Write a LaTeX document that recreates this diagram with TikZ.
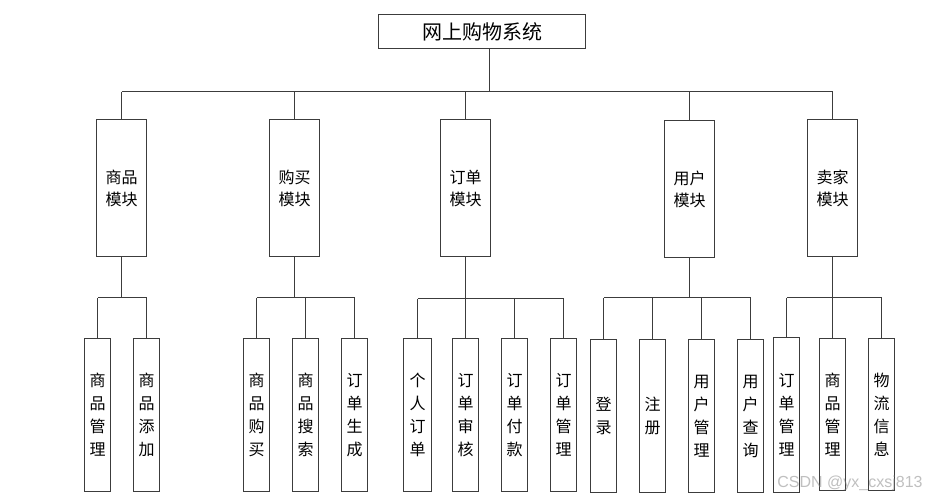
\documentclass[tikz,border=0pt]{standalone}
\usepackage{fontspec}
\newfontfamily\cjk{Noto Sans CJK SC}
\newfontfamily\wmfont{Liberation Sans}
\definecolor{linec}{RGB}{60,60,60}
\begin{document}
\begin{tikzpicture}[x=1pt,y=-1pt,
  box/.style={draw=linec, line width=1.3pt, inner sep=0pt, fill=white, align=center},
  topbox/.style={box, minimum width=207pt, minimum height=34pt, font=\cjk\fontsize{20}{22}\selectfont},
  modbox/.style={box, minimum width=50pt, minimum height=137pt, font=\cjk\fontsize{16}{22}\selectfont},
  leafbox/.style={box, minimum width=26pt, minimum height=153pt, font=\cjk\fontsize{16}{23}\selectfont},
  conn/.style={draw=linec, line width=1.3pt}]
\useasboundingbox (0,0) rectangle (930,498);
% top
\node[topbox] (top) at (482,31.5) {网上购物系统};
% modules
\node[modbox] (m1) at (121.5,188) {商品\\模块};
\node[modbox] (m2) at (294.5,188) {购买\\模块};
\node[modbox] (m3) at (465.5,188) {订单\\模块};
\node[modbox] (m4) at (689.5,189) {用户\\模块};
\node[modbox] (m5) at (832.5,188) {卖家\\模块};
% leaves
\node[leafbox] (g1) at (97.5,415) {商\\品\\管\\理};
\node[leafbox] (g2) at (146.5,415) {商\\品\\添\\加};
\node[leafbox] (b1) at (256.5,415) {商\\品\\购\\买};
\node[leafbox] (b2) at (305.5,415) {商\\品\\搜\\索};
\node[leafbox] (b3) at (354.5,415) {订\\单\\生\\成};
\node[leafbox, minimum width=28pt] (o1) at (417.5,415) {个\\人\\订\\单};
\node[leafbox] (o2) at (465.5,415) {订\\单\\审\\核};
\node[leafbox] (o3) at (514.5,415) {订\\单\\付\\款};
\node[leafbox] (o4) at (563.5,415) {订\\单\\管\\理};
\node[leafbox] (u1) at (603.5,416) {登\\录};
\node[leafbox] (u2) at (652.5,416) {注\\册};
\node[leafbox] (u3) at (701.5,416) {用\\户\\管\\理};
\node[leafbox] (u4) at (750.5,416) {用\\户\\查\\询};
\node[leafbox, minimum height=155pt] (s1) at (786.5,415) {订\\单\\管\\理};
\node[leafbox, minimum height=152pt] (s2) at (832.5,414.5) {商\\品\\管\\理};
\node[leafbox, minimum height=152pt] (s3) at (881.5,414.5) {物\\流\\信\\息};
% bar coordinates
\coordinate (t0) at (489.5,48.5);
\coordinate (bar0) at (0,91.5);
\coordinate (bar1) at (0,297.5);
\coordinate (bar3) at (0,298.5);
% top level
\draw[conn] (top.south -| t0) -- (t0 |- bar0);
\draw[conn] (m1.north |- bar0) -- (m5.north |- bar0);
\foreach \m in {m1,m2,m3,m4,m5} \draw[conn] (\m.north) -- (\m.north |- bar0);
% group 1
\draw[conn] (m1.south) -- (m1.south |- bar1);
\draw[conn] (g1.north |- bar1) -- (g2.north |- bar1);
\foreach \l in {g1,g2} \draw[conn] (\l.north) -- (\l.north |- bar1);
% group 2
\draw[conn] (m2.south) -- (m2.south |- bar1);
\draw[conn] (b1.north |- bar1) -- (b3.north |- bar1);
\foreach \l in {b1,b2,b3} \draw[conn] (\l.north) -- (\l.north |- bar1);
% group 3
\draw[conn] (m3.south) -- (m3.south |- bar3);
\draw[conn] (o1.north |- bar3) -- (o4.north |- bar3);
\foreach \l in {o1,o2,o3,o4} \draw[conn] (\l.north) -- (\l.north |- bar3);
% group 4
\draw[conn] (m4.south) -- (m4.south |- bar1);
\draw[conn] (u1.north |- bar1) -- (u4.north |- bar1);
\foreach \l in {u1,u2,u3,u4} \draw[conn] (\l.north) -- (\l.north |- bar1);
% group 5
\draw[conn] (m5.south) -- (m5.south |- bar1);
\draw[conn] (s1.north |- bar1) -- (s3.north |- bar1);
\foreach \l in {s1,s2,s3} \draw[conn] (\l.north) -- (\l.north |- bar1);
% watermark
\node[font=\wmfont\fontsize{16}{18}\selectfont, text=gray, opacity=0.5, inner sep=0pt] (wm) at (850,483) {CSDN @yx\_cxsj813};
\end{tikzpicture}
\end{document}
